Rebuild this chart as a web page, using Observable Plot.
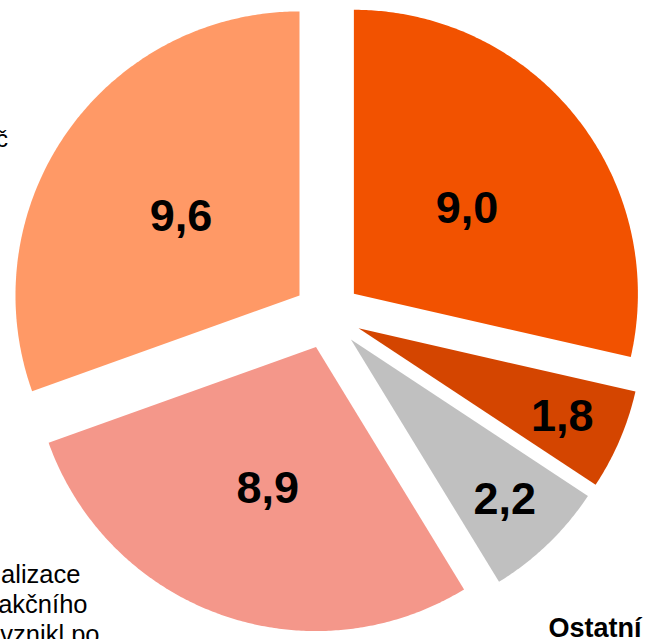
<!DOCTYPE html>
<html>
<head>
<meta charset="utf-8">
<script src="https://cdn.jsdelivr.net/npm/d3@7"></script>
<script src="https://cdn.jsdelivr.net/npm/@observablehq/plot@0.6"></script>
<style>
  html, body { margin: 0; padding: 0; background: #fff; }
  #chart svg { display: block; }
</style>
</head>
<body>
<div id="chart"></div>
<script>
// Data (clockwise from 12 o'clock)
const categories = ["A", "B", "C", "D", "E"];
const values = [9.0, 1.8, 2.2, 8.9, 9.6];
const colors = ["#F25200", "#D44500", "#C0C0C0", "#F4978A", "#FF9966"];
const edgeTexts = ["alizace", "akčního", "vznikl po"];

const W = 647, H = 639;
const R = 284;             // pie radius in px
const cxPx = 326.8, cyPx = 314.5;
const explode = 34 / R;    // explosion offset (in radius units)

const total = d3.sum(values);
let cum = 0;
const slices = values.map((v, i) => {
  const a0 = cum / total * 2 * Math.PI;
  cum += v;
  const a1 = cum / total * 2 * Math.PI;
  const mid = (a0 + a1) / 2;
  const ox = explode * Math.sin(mid), oy = -explode * Math.cos(mid);
  return {cat: categories[i], value: v, a0, a1, mid, ox, oy};
});

// polygon points for each slice (unit-radius coordinates, y down)
const pts = [];
for (const s of slices) {
  pts.push({cat: s.cat, x: s.ox, y: s.oy});
  const n = Math.max(8, Math.ceil((s.a1 - s.a0) / (Math.PI / 360)));
  for (let k = 0; k <= n; k++) {
    const a = s.a0 + (s.a1 - s.a0) * k / n;
    pts.push({cat: s.cat, x: s.ox + Math.sin(a), y: s.oy - Math.cos(a)});
  }
  pts.push({cat: s.cat, x: s.ox, y: s.oy});
}

const labels = slices.map(s => {
  const small = s.value < 3;
  const f = small ? 0.78 : 0.51;
  return {
    x: s.ox + f * Math.sin(s.mid),
    y: s.oy - f * Math.cos(s.mid),
    small,
    text: d3.format(".1f")(s.value).replace(".", ",")
  };
});

const px = v => v / R; // convert px offsets into unit coordinates
const font = "'Liberation Sans', Arial, Helvetica, sans-serif";

const chart = Plot.plot({
  width: W,
  height: H,
  margin: 0,
  style: {fontFamily: font, background: "#fff"},
  x: {domain: [-cxPx / R, (W - cxPx) / R], axis: null},
  y: {domain: [(H - cyPx) / R, -cyPx / R], axis: null},
  marks: [
    ...slices.map((s, i) => Plot.line(pts.filter(p => p.cat === s.cat), {
      x: "x", y: "y", fill: colors[i], stroke: "none", curve: "linear"
    })),
    Plot.text(labels.filter(d => !d.small), {
      x: "x", y: "y", text: "text",
      fontSize: 45, fontWeight: "bold", fill: "#000",
      textAnchor: "middle", lineAnchor: "middle", dy: 5
    }),
    Plot.text(labels.filter(d => d.small), {
      x: "x", y: "y", text: "text",
      fontSize: 45, fontWeight: "bold", fill: "#000",
      textAnchor: "middle", lineAnchor: "middle", dy: 1
    }),
    // cropped category labels at chart edges
    Plot.text(["č"], {
      x: px(7.5 - cxPx), y: px(146.5 - cyPx), text: d => d,
      fontSize: 24, textAnchor: "end", lineAnchor: "bottom", fill: "#000"
    }),
    Plot.text(edgeTexts, {
      x: (d, i) => px([80, 87, 99][i] - cxPx), y: (d, i) => px(582 + i * 30 - cyPx), text: d => d,
      fontSize: 25.5, textAnchor: "end", lineAnchor: "bottom", fill: "#000"
    }),
    Plot.text(["Ostatní"], {
      x: px(548 - cxPx), y: px(636 - cyPx), text: d => d,
      fontSize: 27, fontWeight: "bold", textAnchor: "start", lineAnchor: "bottom", fill: "#000"
    })
  ]
});

document.getElementById("chart").appendChild(chart);
</script>
</body>
</html>
